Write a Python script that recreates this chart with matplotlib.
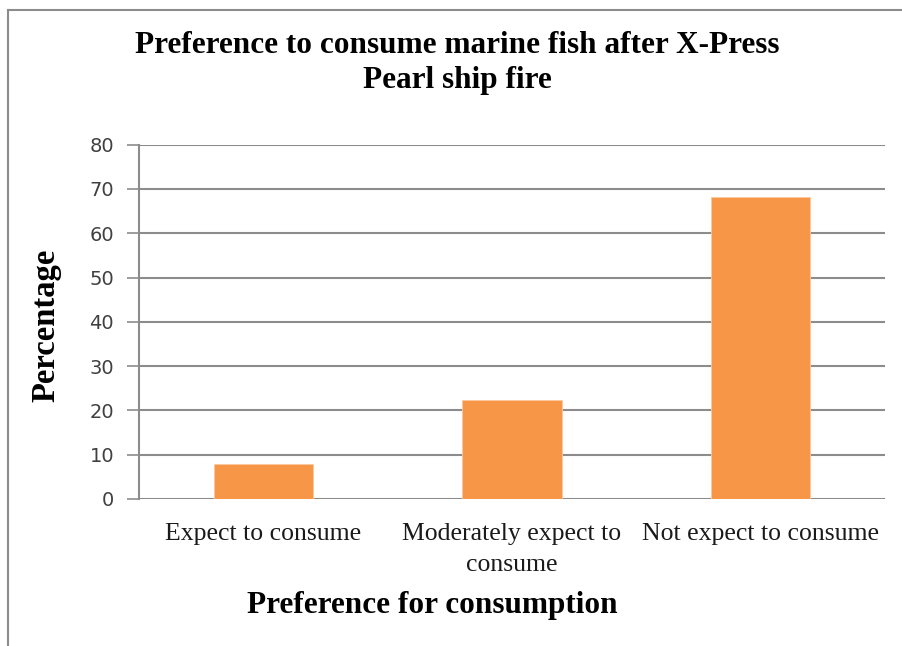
import matplotlib
matplotlib.use("Agg")
import matplotlib.pyplot as plt
from matplotlib.lines import Line2D

categories = ["Expect to consume", "Moderately expect to\nconsume", "Not expect to consume"]
values = [8.0, 22.4, 68.3]
yticks = [0, 10, 20, 30, 40, 50, 60, 70, 80]

W, H = 902, 646
fig = plt.figure(figsize=(W / 100, H / 100), dpi=100)
fig.patch.set_facecolor("white")

ax = fig.add_axes([139 / W, 1 - 499 / H, (885 - 139) / W, (499 - 144.7) / H])
x = list(range(len(categories)))
ax.bar(x, values, width=0.4, color="#F79646", edgecolor="#FBC9A0", linewidth=0.6, zorder=3)
ax.set_xlim(-0.5, len(categories) - 0.5)
ax.set_ylim(0, 80)
ax.set_yticks(yticks)
ax.set_yticklabels([str(t) for t in yticks], family="DejaVu Sans", fontsize=14, color="#404040")
ax.yaxis.grid(True, color="#8C8C8C", linewidth=1.5, zorder=0)
ax.tick_params(axis="y", length=9, width=1.2, color="#8C8C8C", pad=9)
ax.tick_params(axis="x", length=0, pad=17)
ax.set_xticks(x)
ax.set_xticklabels(categories, family="Liberation Serif", fontsize=18.5, color="#1a1a1a", linespacing=1.55)
for s in ["top", "right", "bottom"]:
    ax.spines[s].set_visible(False)
ax.spines["left"].set_color("#8C8C8C")
ax.spines["left"].set_linewidth(1.5)

fig.text(457 / W, 1 - 63 / H, "Preference to consume marine fish after X-Press\nPearl ship fire",
         ha="center", va="center", family="Liberation Serif", fontweight="bold",
         fontsize=22.5, linespacing=1.28)
fig.text(432 / W, 1 - 605 / H, "Preference for consumption", ha="center", va="center",
         family="Liberation Serif", fontweight="bold", fontsize=22.5)
fig.text(46 / W, 1 - 325 / H, "Percentage", ha="center", va="center", rotation=90,
         family="Liberation Serif", fontweight="bold", fontsize=23.5)

fig.add_artist(Line2D([8 / W, 1.0], [1 - 10 / H, 1 - 10 / H], transform=fig.transFigure,
                      color="#8C8C8C", linewidth=1.5))
fig.add_artist(Line2D([8 / W, 8 / W], [0, 1 - 10 / H], transform=fig.transFigure,
                      color="#8C8C8C", linewidth=1.5))

fig.savefig("out.png", dpi=100, facecolor="white")
